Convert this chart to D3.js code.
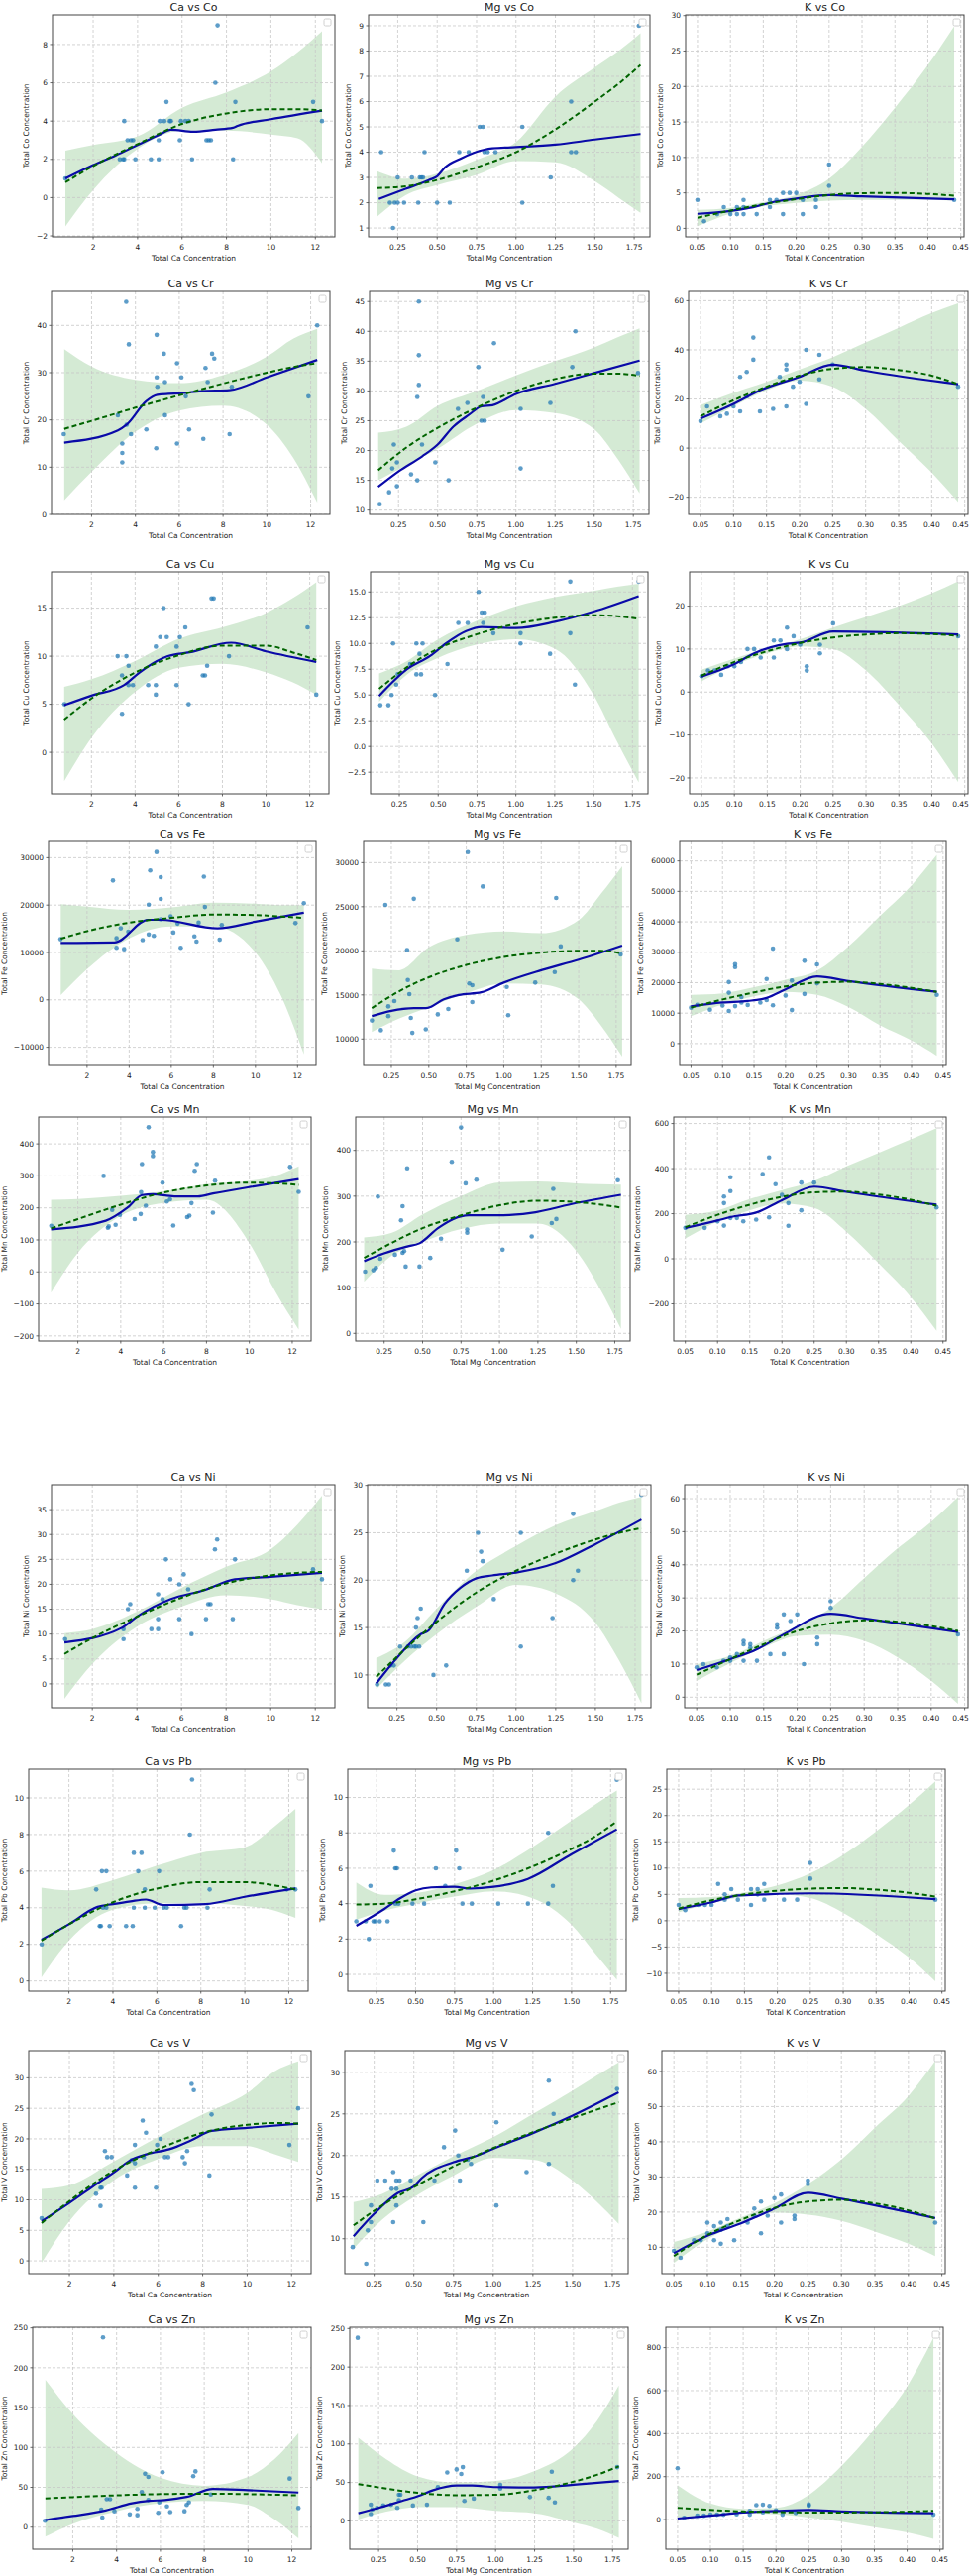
<!DOCTYPE html>
<html>
<head>
<meta charset="utf-8">
<script src="https://d3js.org/d3.v7.min.js"></script>
<style>
body { margin: 0; background: #fff; }
text { font-family: "DejaVu Sans", sans-serif; fill: #222; }
</style>
</head>
<body>
<div id="chart"></div>
<script>
// ---- data ----
var elements = ["Co", "Cr", "Cu", "Fe", "Mn", "Ni", "Pb", "V", "Zn"];
var minerals = ["Ca", "Mg", "K"];

var caTicks = [2, 4, 6, 8, 10, 12];
var mgTicks = [0.25, 0.5, 0.75, 1.0, 1.25, 1.5, 1.75];
var kTicks = [0.05, 0.1, 0.15, 0.2, 0.25, 0.3, 0.35, 0.4, 0.45];
var xDomains = [[0.17, 12.88], [0.065, 1.85], [0.032, 0.455]];

// grids where the dashed fit and its band were read
var caGrid = [0.75, 2, 4, 6, 8, 10, 11.2, 12.3];
var mgGrid = [0.12, 0.3, 0.5, 0.75, 1.0, 1.25, 1.5, 1.65, 1.79];
var kGrid = [0.05, 0.1, 0.15, 0.2, 0.25, 0.3, 0.35, 0.4, 0.44];

// panel order: Co(Ca,Mg,K), Cr(Ca,Mg,K), ...
var yDomains = [
  [-2.05, 9.55], [0.65, 9.43], [-1.2, 30.1],
  [0, 47.2], [9.28, 46.7], [-27, 63.8],
  [-4.32, 18.77], [-4.6, 16.95], [-23.7, 27.97],
  [-13850, 33430], [7000, 32400], [-7200, 66400],
  [-216, 484], [-16.7, 473], [-365, 629],
  [-4.8, 40.0], [6.54, 30.07], [-3.2, 64.2],
  [-0.56, 11.57], [-0.95, 11.6], [-13.4, 28.8],
  [-2.1, 34.45], [5.8, 32.6], [2.5, 65.9],
  [-27.7, 250.8], [-36.8, 251.7], [-138, 895]
];
// [first, last, step, decimals]
var yTickSpec = [
  [-2, 8, 2, 0], [1, 9, 1, 0], [0, 30, 5, 0],
  [0, 40, 10, 0], [10, 45, 5, 0], [-20, 60, 20, 0],
  [0, 15, 5, 0], [-2.5, 15, 2.5, 1], [-20, 20, 10, 0],
  [-10000, 30000, 10000, 0], [10000, 30000, 5000, 0], [0, 60000, 10000, 0],
  [-200, 400, 100, 0], [0, 400, 100, 0], [-200, 600, 200, 0],
  [0, 35, 5, 0], [10, 30, 5, 0], [0, 60, 10, 0],
  [0, 10, 2, 0], [0, 10, 2, 0], [-10, 25, 5, 0],
  [0, 30, 5, 0], [10, 30, 5, 0], [10, 60, 10, 0],
  [0, 250, 50, 0], [0, 250, 50, 0], [0, 800, 200, 0]
];

var scatter = [
  [[0.75,1],[7.6,9],[7.5,6],[5.3,5],[8.4,5],[11.9,5],[12.3,4],[3.4,4],[5.0,4],[5.2,4],[5.45,4],[5.5,4],[5.95,4],[6.15,4],[6.3,4],[3.55,3],[3.7,3],[3.8,3],[4.95,3],[5.9,3],[7.1,3],[7.2,3],[7.3,3],[3.2,2],[3.35,2],[3.4,2],[3.9,2],[4.6,2],[4.95,2],[6.45,2],[8.3,2]],
  [[0.145,4],[1.78,9],[1.35,6],[0.77,5],[0.79,5],[1.04,5],[0.42,4],[0.64,4],[0.70,4],[0.80,4],[0.82,4],[0.87,4],[1.35,4],[1.38,4],[0.25,3],[0.34,3],[0.39,3],[0.40,3],[0.41,3],[1.22,3],[0.20,2],[0.23,2],[0.25,2],[0.29,2],[0.38,2],[0.50,2],[0.58,2],[1.04,2],[0.22,1]],
  [[0.05,4],[0.06,1],[0.08,2],[0.09,3],[0.10,2],[0.11,3],[0.11,2],[0.12,4],[0.12,2],[0.12,3],[0.14,2],[0.16,4],[0.16,3],[0.17,4],[0.18,5],[0.18,2],[0.19,5],[0.20,5],[0.21,4],[0.21,2],[0.23,4],[0.23,3],[0.25,9],[0.25,6],[0.44,4]],
  [[0.73,17],[3.58,45],[3.7,36],[4.97,38],[5.3,34],[5.9,32],[7.5,34],[7.6,33],[7.2,31],[4.97,29],[6.1,29],[5.35,28],[5.0,27],[7.3,28],[12.3,40],[11.9,25],[6.3,25],[5.35,21],[3.2,21],[3.6,19],[3.8,17],[4.5,18],[6.45,18],[8.3,17],[7.1,16],[3.4,15],[5.9,15],[4.95,14],[3.4,13],[3.4,11],[8.4,27]],
  [[0.13,11],[0.19,13],[0.21,17],[0.22,21],[0.24,18],[0.24,14],[0.33,16],[0.37,15],[0.38,45],[0.38,36],[0.38,31],[0.37,29],[0.40,21],[0.485,18],[0.57,15],[0.63,27],[0.69,28],[0.76,34],[0.78,25],[0.80,25],[0.79,29],[0.86,38],[1.03,27],[1.03,17],[1.22,28],[1.36,34],[1.38,40],[1.78,33]],
  [[0.05,11],[0.06,17],[0.08,13],[0.09,14],[0.10,17],[0.11,29],[0.11,15],[0.12,31],[0.12,21],[0.13,45],[0.13,36],[0.14,15],[0.16,16],[0.17,29],[0.18,34],[0.18,32],[0.18,17],[0.19,25],[0.20,27],[0.21,40],[0.21,18],[0.23,38],[0.23,28],[0.25,34],[0.44,25]],
  [[0.76,5],[3.2,10],[3.6,10],[3.4,8],[3.4,4],[3.7,9],[3.7,7],[3.9,7],[4.6,7],[4.95,11],[4.95,7],[4.95,6],[5.15,12],[5.3,15],[5.45,12],[5.9,11],[5.9,7],[6.05,12],[6.3,13],[6.45,5],[7.1,8],[7.2,8],[7.3,9],[7.5,16],[7.6,16],[8.3,10],[11.9,13],[12.3,6]],
  [[0.128,4],[0.18,4],[0.2,5],[0.21,10],[0.23,6],[0.24,7],[0.32,8],[0.36,10],[0.40,10],[0.36,7],[0.39,7],[0.38,9],[0.48,5],[0.56,8],[0.63,12],[0.69,12],[0.76,15],[0.78,13],[0.80,13],[0.79,12],[0.855,11],[1.03,11],[1.03,10],[1.22,9],[1.35,16],[1.35,11],[1.38,6],[1.79,16]],
  [[0.05,3.7],[0.06,5],[0.07,5],[0.08,4],[0.09,6],[0.10,6],[0.11,7],[0.12,10],[0.13,10],[0.14,8],[0.16,12],[0.16,8],[0.17,12],[0.18,15],[0.18,10],[0.19,13],[0.20,11],[0.21,6],[0.21,5],[0.23,11],[0.23,9],[0.25,16],[0.44,13]],
  [[0.74,12800],[3.23,25200],[3.4,13000],[3.4,11000],[3.6,15100],[3.76,10700],[3.96,14400],[4.64,12600],[4.93,20100],[5.0,27300],[4.93,13800],[5.17,13500],[5.3,31200],[5.5,25900],[5.5,21300],[5.5,17000],[5.97,17600],[6.1,14200],[6.45,11000],[6.3,16100],[7.1,13400],[7.2,12300],[7.3,16300],[7.55,26000],[7.6,19600],[8.3,12700],[8.4,15800],[11.9,16200],[12.3,20400]],
  [[0.12,12100],[0.18,11000],[0.21,25200],[0.23,13700],[0.23,12600],[0.27,14300],[0.355,20100],[0.36,16700],[0.37,15100],[0.38,12400],[0.40,25900],[0.39,10700],[0.48,11100],[0.56,12800],[0.63,13400],[0.69,21300],[0.76,31200],[0.77,16300],[0.79,16100],[0.79,14200],[0.86,27300],[1.02,15900],[1.03,12700],[1.21,16400],[1.34,17600],[1.35,26000],[1.38,20500],[1.78,19600]],
  [[0.05,11800],[0.06,12700],[0.08,11100],[0.10,12500],[0.11,20200],[0.11,16700],[0.11,10700],[0.12,26100],[0.12,25100],[0.12,12300],[0.13,15300],[0.13,13500],[0.14,12700],[0.16,13500],[0.17,21200],[0.17,14300],[0.18,31200],[0.18,12600],[0.20,15800],[0.21,20700],[0.21,11000],[0.23,27200],[0.23,16300],[0.25,26000],[0.25,19800],[0.44,16000]],
  [[0.76,144],[3.2,300],[3.4,138],[3.44,142],[3.6,194],[3.76,147],[3.96,178],[4.65,165],[4.99,337],[4.93,181],[4.95,249],[5.17,207],[5.3,452],[5.5,375],[5.5,362],[5.95,279],[6.15,220],[6.3,227],[6.45,145],[7.1,171],[7.2,176],[7.3,215],[7.45,316],[7.55,337],[8.3,185],[8.4,285],[11.9,328],[12.3,250]],
  [[0.126,135],[0.18,138],[0.196,143],[0.21,299],[0.225,163],[0.32,172],[0.36,247],[0.37,278],[0.37,176],[0.38,180],[0.39,146],[0.40,361],[0.48,146],[0.55,165],[0.62,207],[0.69,375],[0.75,450],[0.78,328],[0.79,220],[0.79,227],[0.85,336],[1.02,183],[1.21,212],[1.34,241],[1.35,316],[1.37,250],[1.77,335]],
  [[0.05,137],[0.08,137],[0.10,166],[0.11,276],[0.11,247],[0.11,147],[0.12,362],[0.12,300],[0.12,181],[0.13,181],[0.14,166],[0.16,174],[0.17,376],[0.18,450],[0.18,184],[0.19,331],[0.20,284],[0.21,247],[0.21,146],[0.23,338],[0.23,215],[0.25,338],[0.44,228]],
  [[0.78,9],[3.4,11],[3.4,9],[3.6,15],[3.7,16],[4.65,11],[4.95,11],[4.95,18],[4.95,13],[5.15,17],[5.3,25],[5.5,21],[5.9,20],[6.1,22],[5.9,13],[6.3,19],[6.45,10],[7.1,13],[7.2,16],[7.3,16],[7.5,27],[7.6,29],[8.3,13],[8.4,25],[11.9,23],[12.3,21]],
  [[0.125,9],[0.18,9],[0.2,9],[0.21,11],[0.23,11],[0.27,13],[0.32,13],[0.34,13],[0.36,13],[0.37,15],[0.38,16],[0.40,17],[0.37,13],[0.39,13],[0.48,10],[0.56,11],[0.69,21],[0.76,25],[0.78,23],[0.79,22],[0.86,18],[1.03,25],[1.03,13],[1.23,16],[1.36,20],[1.36,27],[1.39,21],[1.79,29]],
  [[0.05,9],[0.06,10],[0.08,9],[0.09,11],[0.10,12],[0.10,11],[0.11,13],[0.12,16],[0.12,17],[0.12,11],[0.13,16],[0.13,15],[0.14,11],[0.16,13],[0.17,22],[0.17,21],[0.18,25],[0.18,13],[0.19,23],[0.20,25],[0.21,10],[0.23,18],[0.23,16],[0.25,29],[0.25,27],[0.44,19]],
  [[0.76,2],[3.24,5],[3.4,3],[3.45,3],[3.5,6],[3.7,6],[3.55,4],[3.7,4],[3.85,3],[4.6,3],[4.9,3],[4.95,7],[4.95,4],[5.15,6],[5.3,7],[5.45,5],[5.45,4],[5.9,4],[6.1,6],[6.3,4],[6.45,4],[7.1,3],[7.25,4],[7.35,4],[7.5,8],[7.6,11],[8.3,4],[8.4,5],[11.9,5],[12.3,5]],
  [[0.12,3],[0.18,3],[0.2,2],[0.21,5],[0.23,3],[0.24,3],[0.27,3],[0.32,3],[0.36,7],[0.37,6],[0.38,6],[0.37,4],[0.39,4],[0.48,4],[0.555,4],[0.63,6],[0.69,5],[0.76,7],[0.78,6],[0.8,4],[0.86,4],[1.03,4],[1.22,4],[1.35,4],[1.35,8],[1.38,5],[1.79,11]],
  [[0.05,3],[0.06,2],[0.08,3],[0.09,3],[0.10,3],[0.11,7],[0.12,5],[0.12,4],[0.13,6],[0.14,4],[0.16,6],[0.16,3],[0.17,6],[0.17,5],[0.18,7],[0.18,4],[0.21,4],[0.23,4],[0.25,11],[0.25,8],[0.44,4]],
  [[0.75,7],[3.2,11],[3.4,12],[3.45,12],[3.4,9],[3.6,18],[3.7,17],[3.9,17],[4.6,14],[4.95,12],[4.95,16],[4.95,19],[4.8,16.5],[5.3,23],[5.45,21],[5.35,17],[5.9,12],[5.95,19],[6.1,20],[6.3,17],[6.45,17],[7.1,17],[7.2,16],[7.3,18],[7.5,29],[7.6,28],[8.3,14],[8.4,24],[11.9,19],[12.3,25]],
  [[0.115,9],[0.2,7],[0.21,11],[0.23,12],[0.23,14],[0.27,17],[0.32,17],[0.36,16],[0.37,18],[0.37,12],[0.39,16],[0.39,17],[0.39,14],[0.41,17],[0.48,17],[0.56,12],[0.63,17],[0.69,21],[0.76,23],[0.78,20],[0.79,17],[0.84,19.5],[0.86,19],[1.02,24],[1.02,14],[1.21,18],[1.35,29],[1.35,19],[1.38,25],[1.78,28]],
  [[0.05,9],[0.06,7],[0.08,12],[0.09,12],[0.10,17],[0.10,14],[0.11,16],[0.11,12],[0.12,17],[0.12,15],[0.12,11],[0.13,18],[0.13,16],[0.14,12],[0.16,17],[0.17,21],[0.17,19],[0.18,23],[0.18,14],[0.19,19],[0.20,24],[0.21,25],[0.21,17],[0.23,19],[0.23,18],[0.25,29],[0.25,28],[0.44,17]],
  [[0.73,8],[3.38,238],[3.35,12],[3.3,22],[3.55,35],[3.7,35],[3.9,20],[4.6,16],[4.95,23],[4.95,15],[5.15,44],[5.3,67],[5.45,63],[5.45,34],[5.9,18],[5.95,31],[6.1,69],[6.3,26],[6.45,19],[7.1,20],[7.2,28],[7.3,31],[7.5,64],[7.6,70],[8.3,41],[11.9,61],[12.3,24]],
  [[0.116,238],[0.2,9],[0.2,21],[0.21,15],[0.24,17],[0.28,20],[0.33,21],[0.37,17],[0.38,34],[0.39,34],[0.38,27],[0.47,20],[0.56,21],[0.63,44],[0.69,63],[0.75,67],[0.78,61],[0.79,70],[0.80,26],[0.86,29],[1.03,42],[1.03,47],[1.22,31],[1.34,30],[1.36,64],[1.38,24],[1.78,70]],
  [[0.05,239],[0.06,8],[0.08,18],[0.09,18],[0.10,23],[0.11,23],[0.12,23],[0.14,25],[0.16,41],[0.16,23],[0.17,67],[0.18,69],[0.18,34],[0.19,64],[0.20,43],[0.21,23],[0.23,31],[0.25,70],[0.25,65],[0.44,23]]
];

// solid blue smoother, vertices
var lowess = [
  [[0.75,1.0],[2,1.7],[3,2.2],[4,2.75],[5,3.3],[5.5,3.55],[6.5,3.45],[7.5,3.55],[8.3,3.65],[8.5,3.75],[10,4.1],[12.3,4.55]],
  [[0.13,2.15],[0.3,2.55],[0.45,2.9],[0.5,3.05],[0.55,3.4],[0.65,3.75],[0.8,4.1],[0.85,4.15],[1.0,4.2],[1.25,4.3],[1.5,4.5],[1.79,4.72]],
  [[0.05,2.05],[0.1,2.45],[0.13,2.9],[0.17,3.8],[0.2,4.2],[0.25,4.7],[0.3,4.5],[0.44,4.1]],
  [[0.75,15.2],[3.2,17.8],[3.6,19],[4.5,24],[5.0,25.3],[5.5,25.5],[6.0,25.6],[7.0,26.1],[8.3,26.3],[10,29],[12.3,32.7]],
  [[0.12,13.9],[0.25,16.5],[0.4,19],[0.5,21],[0.6,24],[0.7,26],[0.78,27.4],[0.85,27.6],[1.0,29.5],[1.25,31.2],[1.5,33],[1.79,35.1]],
  [[0.05,12],[0.1,18],[0.14,23.5],[0.2,29],[0.25,34],[0.3,31.5],[0.44,26]],
  [[0.75,4.9],[2,5.9],[3.5,7],[4.2,8.3],[5.0,9.5],[5.5,10],[6.5,10.4],[8.4,11.4],[10,10.5],[12.3,9.4]],
  [[0.12,4.9],[0.3,7.5],[0.45,8.8],[0.55,10],[0.68,11.2],[0.78,11.6],[1.0,11.5],[1.25,12.1],[1.5,13.1],[1.79,14.6]],
  [[0.05,3.6],[0.1,6.5],[0.13,9],[0.18,11.2],[0.2,11.5],[0.25,14.1],[0.44,13.4]],
  [[0.75,12000],[3.3,12100],[4.9,16900],[5.5,16900],[8.2,15100],[10,16500],[12.3,18400]],
  [[0.12,12600],[0.25,13200],[0.4,13500],[0.48,13500],[0.6,14500],[0.7,15000],[0.85,15300],[1.0,16400],[1.25,17800],[1.5,19000],[1.79,20600]],
  [[0.05,12200],[0.1,13500],[0.14,14000],[0.17,15000],[0.2,17800],[0.25,22100],[0.3,20500],[0.44,17000]],
  [[0.75,133],[3.3,160],[4.3,200],[5.0,240],[5.5,243],[6.5,236],[7.6,236],[8.3,245],[10,265],[12.3,290]],
  [[0.12,158],[0.25,175],[0.4,190],[0.48,197],[0.6,230],[0.7,250],[0.8,258],[1.0,258],[1.2,263],[1.5,285],[1.79,303]],
  [[0.05,137],[0.1,170],[0.12,185],[0.16,205],[0.2,260],[0.25,320],[0.3,297],[0.44,240]],
  [[0.75,8.3],[3.3,11.2],[4,13.5],[5.5,17],[7,18.8],[8.4,21],[10,21.5],[12.3,22.3]],
  [[0.12,9.1],[0.25,11.8],[0.4,14.3],[0.45,14.7],[0.55,17.5],[0.65,19.2],[0.75,20.2],[0.85,20.5],[1.0,20.8],[1.25,21.8],[1.5,23.8],[1.79,26.4]],
  [[0.05,8.2],[0.1,11.5],[0.14,14.5],[0.18,19],[0.25,25.2],[0.3,23.8],[0.44,19.7]],
  [[0.75,2.25],[2,3.1],[3.3,4.05],[4,4.2],[4.8,4.35],[5.5,4.45],[6.3,4.15],[8.2,4.2],[10,4.6],[12.3,5.05]],
  [[0.12,2.75],[0.3,3.7],[0.4,4.3],[0.5,4.75],[0.6,4.92],[0.75,4.95],[0.85,4.85],[1.0,4.95],[1.22,5.4],[1.5,6.8],[1.79,8.2]],
  [[0.05,2.2],[0.1,3.5],[0.14,4.8],[0.18,5.0],[0.25,5.2],[0.44,4.1]],
  [[0.75,6.5],[2,9.5],[3.3,12.8],[4,14.5],[4.7,16.4],[5.5,17.5],[6.5,18.3],[7.5,19.8],[8.4,21.3],[10,21.8],[12.3,22.5]],
  [[0.12,10.3],[0.25,13],[0.4,15.5],[0.5,16.3],[0.55,17.3],[0.75,19.2],[0.9,20],[1.0,20.8],[1.25,22.7],[1.5,24.8],[1.79,27.6]],
  [[0.05,8.3],[0.1,13.3],[0.15,16.8],[0.2,21],[0.25,25.5],[0.3,23.8],[0.44,18.3]],
  [[0.75,9],[2,14],[3.5,21],[4.7,30],[5.5,33],[6.2,34],[7.2,38],[8.4,48],[10,46.5],[12.3,43.5]],
  [[0.12,10],[0.25,17],[0.4,26],[0.5,32],[0.6,40],[0.75,46],[0.85,46],[1.0,44],[1.25,43.5],[1.5,47],[1.79,52]],
  [[0.05,5],[0.1,18],[0.15,33],[0.2,40],[0.25,45],[0.3,38],[0.44,30]]
];

// dashed green fit, read on the grids above
var fitMid = [
  [0.8,1.65,2.8,3.85,4.4,4.62,4.62,4.55],
  [2.58,2.65,2.9,3.4,4.0,4.9,6.0,6.7,7.45],
  [1.5,2.5,3.4,4.1,4.7,4.95,5.0,4.85,4.6],
  [18.1,19.8,22.6,25.2,27.7,30,31.2,32],
  [16.7,20.5,23.8,27.2,30,32,32.9,32.9,32.5],
  [13,19.5,25,29.5,32.3,33,31.8,29.5,26],
  [3.4,5.6,8.3,10.1,11.1,11.1,10.4,9.6],
  [5.6,7.7,9.5,10.9,11.9,12.5,12.75,12.65,12.4],
  [3.8,7,9.5,11.4,12.7,13.4,13.7,13.5,13.1],
  [12900,14500,16300,17300,18000,17900,17600,17300],
  [13500,15400,17000,18400,19300,19800,20000,20000,19700],
  [11800,14500,16800,18800,20000,20300,19600,18300,17000],
  [136,165,210,248,270,279,277,272],
  [165,198,230,258,280,290,287,282,275],
  [140,195,240,275,295,298,285,262,235],
  [6,9.2,13.5,17.3,20.2,21.8,22.3,22.5],
  [9.8,12.7,15.6,18.7,21,22.8,24.3,25,25.5],
  [6.8,11.5,16,20,22.3,23.2,22.8,21.5,20],
  [2.2,3.1,4.3,5.05,5.4,5.4,5.25,5.0],
  [3.95,4.0,4.25,4.7,5.3,6.1,7.1,7.8,8.65],
  [2.3,3.9,5.0,5.7,6.1,6.2,5.9,5.3,4.6],
  [6.2,9.8,14.8,18.3,21,22.3,22.6,22.5],
  [11.6,14,16.2,18.7,20.9,22.8,24.5,25.5,26.4],
  [7.5,13.5,17.8,21.2,23,23.5,22.5,20.5,18.2],
  [36,37.7,40,41.5,42,41.5,40.7,40],
  [48,42,36.5,33.5,34,40,51,60,71],
  [55,45,38,35,33,33,34,37,41]
];
var bandLo = [
  [-1.5,0.4,2.55,3.5,3.5,3.3,3.1,1.8],
  [1.45,2.3,2.7,3.1,3.65,3.6,2.85,2.2,1.6],
  [0.3,2.1,3.1,3.6,3.9,4.0,4.0,4.0,3.9],
  [3,9,17.5,22,23,19,12,2.5],
  [15,17.5,20.3,24.5,26.8,26.3,23.6,18.6,12.8],
  [10,17,23.5,27.5,25,16,3,-10,-22],
  [-3,1.5,6.3,8.8,9.2,8.3,7.3,6.0],
  [4.35,7,8.6,9.9,10.4,9.5,5,0.5,-3.5],
  [2.5,6.3,9,10.6,10,5,-3,-12,-21],
  [1000,6500,13000,15500,15500,10000,1000,-11500],
  [10800,12300,13600,15200,16300,16200,14500,11500,8000],
  [9000,12800,15500,17000,16000,12000,6000,1000,-4000],
  [-65,60,175,215,225,90,-60,-180],
  [113,170,200,228,240,240,180,100,10],
  [90,165,215,245,225,120,-20,-170,-320],
  [-3,4,11.5,15.5,17.8,17,15.8,15],
  [8.5,11.5,14.3,17.2,19.5,18.6,15.5,11.5,7],
  [5,10.3,15,18.5,18.9,17,12,5,-2],
  [0.2,2.2,3.9,4.25,4.25,4.1,3.9,3.45],
  [3.1,3.6,4.0,4.4,4.7,4.3,2.8,1.2,-0.3],
  [1.6,3.3,4.6,5.0,4.3,1.5,-2.5,-7,-11.5],
  [-0.3,6.5,13.2,16.7,18.8,18.8,17.5,16.2],
  [8.8,12.3,15,17.6,19.7,19.5,17,14.5,11.8],
  [5.5,12.3,16.8,19.8,19.3,17.5,14.5,11,7.5],
  [-12,4,20,30,33,28,10,-14],
  [2,12,18,18,13,10,-2,-10,-22],
  [-5,20,28,25,10,-10,-35,-60,-90]
];
var bandHi = [
  [2.45,2.75,3.2,4.7,5.5,6.6,7.6,8.7],
  [3.25,2.95,3.15,3.7,4.4,6.2,7.35,8.0,8.7],
  [2.6,2.9,3.7,4.7,7.0,11.5,17,23,28.5],
  [35,31.3,28.5,27.8,29.5,33.4,37.2,39.3],
  [23,24,27.5,30,32.6,35,37.3,39,40.5],
  [17.5,22.5,27,32,37,43,49,55,59],
  [6.8,7.6,9.5,11.8,13,14.5,16,17.7],
  [7.1,8.3,10.4,12.2,13.6,14.5,15.1,15.5,15.8],
  [5.2,7.8,10.2,12.3,15,17.5,20,23,25.8],
  [20200,19700,19000,19500,20500,20300,20000,20000],
  [18000,17800,20400,21800,22200,22000,23500,26500,29600],
  [16000,16500,18500,21000,24000,32000,42000,52000,62000],
  [225,228,238,252,275,285,300,330],
  [210,220,260,300,330,332,328,326,325],
  [195,215,265,305,345,410,470,530,580],
  [10.2,11,14.5,19.3,23.5,27,32,37.8],
  [11.8,13.5,17,21,23.6,25.8,27.3,28.2,28.8],
  [10,12.5,17,21.5,27,36,45,53,60.5],
  [5.1,4.95,5.5,6.3,7.0,7.3,8.3,9.4],
  [5.2,4.5,4.6,5.1,5.9,7.2,8.7,9.6,10.4],
  [4.3,4.5,5.4,6.7,9,12.5,17,22,26.5],
  [11.8,12.4,16.3,20.3,24,27.5,31,32.7],
  [14.4,15.4,17.4,19.9,22.2,25,27.8,29.6,31.2],
  [11.5,14.5,18.5,22.5,28,35,44,53,63],
  [185,142,93,62,52,63,85,118],
  [108,80,58,50,52,65,95,130,176],
  [160,75,50,55,115,250,420,620,845]
];

// ---- layout: [top, bottom, [left,right] x3] per row (the picture is a collage) ----
var rowLayout = [
  [15, 239, [53, 338], [372, 656], [692, 973]],
  [294, 519, [52, 333], [373, 655], [695, 977]],
  [577, 801, [52, 332], [374, 654], [696, 977]],
  [849, 1075, [49, 319], [367, 637], [686, 955]],
  [1127, 1353, [39, 314], [359, 636], [680, 955]],
  [1498, 1723, [52, 338], [371, 657], [691, 977]],
  [1785, 2009, [29, 311], [351, 632], [673, 954]],
  [2069, 2294, [29, 314], [348, 634], [668, 954]],
  [2348, 2572, [33, 314], [353, 634], [672, 952]]
];

var xTickSets = [caTicks, mgTicks, kTicks];
var xTickDec = [0, 2, 2];
var fitGrids = [caGrid, mgGrid, kGrid];
var W = 979;

function fmt(v, dec) {
  var s = Math.abs(v).toFixed(dec);
  return (v < 0 && +s !== 0 ? "\u2212" : "") + s;
}

var svg = d3.select("#chart").append("svg")
    .attr("width", W)
    .attr("height", 2599);

elements.forEach(function(el, r) {
  var row = rowLayout[r];
  var top = row[0], bottom = row[1];

  minerals.forEach(function(m, c) {
    var i = r * 3 + c;
    var left = row[c + 2][0], right = row[c + 2][1];

    var x = d3.scaleLinear().domain(xDomains[c]).range([left, right]);
    var y = d3.scaleLinear().domain(yDomains[i]).range([bottom, top]);

    var g = svg.append("g");
    var clipId = "clip" + i;
    g.append("clipPath").attr("id", clipId)
      .append("rect")
        .attr("x", left).attr("y", top)
        .attr("width", right - left).attr("height", bottom - top);
    var plot = g.append("g").attr("clip-path", "url(#" + clipId + ")");

    // confidence band
    var fit = fitGrids[c].map(function(gx, k) {
      return {x: gx, mid: fitMid[i][k], lo: bandLo[i][k], hi: bandHi[i][k]};
    });
    plot.append("path")
      .datum(fit)
      .attr("d", d3.area()
        .x(function(d) { return x(d.x); })
        .y0(function(d) { return y(d.lo); })
        .y1(function(d) { return y(d.hi); })
        .curve(d3.curveMonotoneX))
      .attr("fill", "green")
      .attr("fill-opacity", 0.17);

    // grid
    var yt = d3.range(yTickSpec[i][0], yTickSpec[i][1] + yTickSpec[i][2] / 2, yTickSpec[i][2]);
    var xt = xTickSets[c];
    plot.selectAll(".gx").data(xt).enter().append("line")
      .attr("x1", function(d) { return x(d); }).attr("x2", function(d) { return x(d); })
      .attr("y1", top).attr("y2", bottom)
      .attr("stroke", "#c8c8c8").attr("stroke-width", 0.8)
      .attr("stroke-dasharray", "3,2");
    plot.selectAll(".gy").data(yt).enter().append("line")
      .attr("x1", left).attr("x2", right)
      .attr("y1", function(d) { return y(d); }).attr("y2", function(d) { return y(d); })
      .attr("stroke", "#c8c8c8").attr("stroke-width", 0.8)
      .attr("stroke-dasharray", "3,2");

    // scatter
    plot.selectAll(".pt").data(scatter[i]).enter().append("circle")
      .attr("cx", function(d) { return x(d[0]); })
      .attr("cy", function(d) { return y(d[1]); })
      .attr("r", 2.3)
      .attr("fill", "#1f77b4")
      .attr("fill-opacity", 0.72);

    // smoother
    plot.append("path")
      .datum(lowess[i])
      .attr("d", d3.line()
        .x(function(d) { return x(d[0]); })
        .y(function(d) { return y(d[1]); })
        .curve(d3.curveMonotoneX))
      .attr("fill", "none")
      .attr("stroke", "#0a0aa8")
      .attr("stroke-width", 2.2);

    // polynomial fit
    plot.append("path")
      .datum(fit)
      .attr("d", d3.line()
        .x(function(d) { return x(d.x); })
        .y(function(d) { return y(d.mid); })
        .curve(d3.curveMonotoneX))
      .attr("fill", "none")
      .attr("stroke", "#006400")
      .attr("stroke-width", 2)
      .attr("stroke-dasharray", "5,3");

    // frame
    g.append("rect")
      .attr("x", left).attr("y", top)
      .attr("width", right - left).attr("height", bottom - top)
      .attr("fill", "none").attr("stroke", "#444").attr("stroke-width", 1);

    // empty legend box
    g.append("rect")
      .attr("x", right - 11).attr("y", top + 4)
      .attr("width", 7).attr("height", 7).attr("rx", 1.5)
      .attr("fill", "#fff").attr("stroke", "#c4c4c4").attr("stroke-width", 0.8);

    // x ticks
    g.selectAll(".xt").data(xt).enter().append("line")
      .attr("x1", function(d) { return x(d); }).attr("x2", function(d) { return x(d); })
      .attr("y1", bottom).attr("y2", bottom + 2.5)
      .attr("stroke", "#444").attr("stroke-width", 0.8);
    g.selectAll(".xl").data(xt).enter().append("text")
      .attr("x", function(d) { return x(d); })
      .attr("y", bottom + 13)
      .attr("text-anchor", "middle")
      .attr("font-size", 7.5)
      .text(function(d) { return fmt(d, xTickDec[c]); })
      .each(function() {
        // keep the last label inside the page
        var b = this.getBBox();
        if (b.x + b.width > W - 1) d3.select(this).attr("x", W - 1 - b.width / 2);
      });

    // y ticks
    g.selectAll(".yt").data(yt).enter().append("line")
      .attr("x1", left - 2.5).attr("x2", left)
      .attr("y1", function(d) { return y(d); }).attr("y2", function(d) { return y(d); })
      .attr("stroke", "#444").attr("stroke-width", 0.8);
    var ylab = g.selectAll(".yl").data(yt).enter().append("text")
      .attr("x", left - 5)
      .attr("y", function(d) { return y(d) + 2.7; })
      .attr("text-anchor", "end")
      .attr("font-size", 7.5)
      .text(function(d) { return fmt(d, yTickSpec[i][3]); });
    var maxW = d3.max(ylab.nodes(), function(n) { return n.getBBox().width; });

    // axis titles
    g.append("text")
      .attr("x", (left + right) / 2)
      .attr("y", bottom + 24)
      .attr("text-anchor", "middle")
      .attr("font-size", 7.5)
      .text("Total " + m + " Concentration");
    var ylx = Math.max(7, left - 8 - maxW - 5);
    g.append("text")
      .attr("transform", "translate(" + ylx + "," + ((top + bottom) / 2) + ") rotate(-90)")
      .attr("text-anchor", "middle")
      .attr("font-size", 7.5)
      .text("Total " + el + " Concentration");

    g.append("text")
      .attr("x", (left + right) / 2)
      .attr("y", top - 4)
      .attr("text-anchor", "middle")
      .attr("font-size", 11)
      .text(m + " vs " + el);
  });
});
</script>
</body>
</html>
